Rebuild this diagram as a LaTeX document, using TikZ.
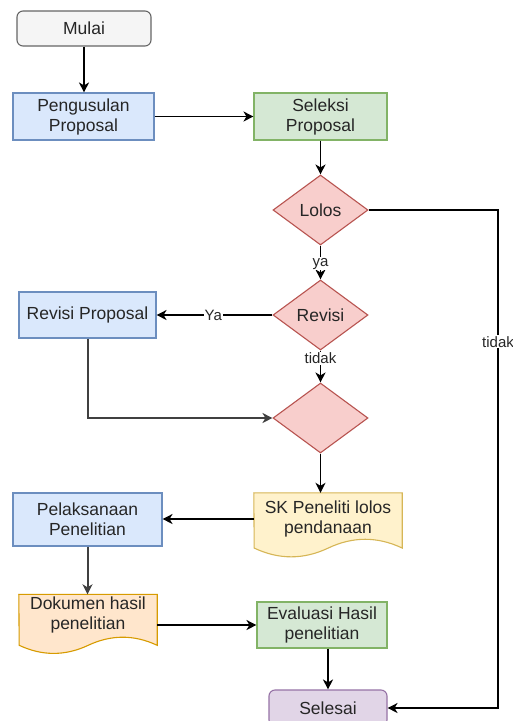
\documentclass[tikz,border=0pt]{standalone}
\usepackage{fontspec}
\setmainfont{Liberation Sans}
\usetikzlibrary{shapes.geometric,arrows.meta,backgrounds}
\definecolor{grayF}{HTML}{F5F5F5}\definecolor{grayD}{HTML}{666666}
\definecolor{blueF}{HTML}{DAE8FC}\definecolor{blueD}{HTML}{6C8EBF}
\definecolor{greenF}{HTML}{D5E8D4}\definecolor{greenD}{HTML}{82B366}
\definecolor{redF}{HTML}{F8CECC}\definecolor{redD}{HTML}{B85450}
\definecolor{yelF}{HTML}{FFF2CC}\definecolor{yelD}{HTML}{D6B656}
\definecolor{oraF}{HTML}{FFE6CC}\definecolor{oraD}{HTML}{D79B00}
\definecolor{purF}{HTML}{E1D5E7}\definecolor{purD}{HTML}{9673A6}
\newcommand\docpath[4]{%
 \filldraw[#4] (#1.north west) -- (#1.north east) -- ++(0,{0.85*#3})
  .. controls +({-#2/6},{-0.18*#3}) and +({#2/6},{-0.18*#3}) .. ++({-#2/2},0)
  .. controls +({-#2/6},{0.18*#3}) and +({#2/6},{0.18*#3}) .. ++({-#2/2},0) -- cycle;}
\begin{document}
\begin{tikzpicture}[x=1pt,y=-1pt,
  box/.style={draw, line width=1.1pt, inner sep=0pt, align=center, text=black!85,
    font=\fontsize{17.5}{20}\selectfont},
  term/.style={box, rounded corners=6pt},
  gray/.style={fill=grayF, draw=grayD},
  blue/.style={fill=blueF, draw=blueD},
  green/.style={fill=greenF, draw=greenD},
  red/.style={fill=redF, draw=redD},
  purple/.style={fill=purF, draw=purD},
  dec/.style={box, diamond, red, minimum width=95pt, minimum height=70pt},
  txt/.style={inner sep=0pt, align=center, text=black!85, font=\fontsize{17.5}{20}\selectfont},
  conn/.style={line width=1.5pt, -{Stealth[length=10pt,width=10pt,inset=3pt]}},
  lbl/.style={fill=white, inner sep=1pt, text=black!85, font=\fontsize{15}{17}\selectfont}]
\useasboundingbox (0,0) rectangle (513,721);
\clip (0,0) rectangle (513,721);

\node[term, gray, minimum width=134pt, minimum height=35pt] (mulai) at (84,28.5) {Mulai};
\node[box, blue, minimum width=141pt, minimum height=47pt] (peng) at (83.5,116.5) {Pengusulan\\Proposal};
\node[box, green, minimum width=133pt, minimum height=47pt] (sel) at (320.5,116.5) {Seleksi\\Proposal};
\node[dec] (lolos) at (320.5,210) {Lolos};
\node[dec] (rev) at (320.5,315) {Revisi};
\node[dec] (d3) at (320.5,418) {};
\node[box, blue, minimum width=137pt, minimum height=46pt] (rp) at (87.5,315) {Revisi Proposal};
\node[txt, minimum width=148pt, minimum height=52pt] (sk) at (328,519) {SK Peneliti lolos\\pendanaan};
\node[box, blue, minimum width=149pt, minimum height=53pt] (pel) at (87.5,519.5) {Pelaksanaan\\Penelitian};
\node[txt, minimum width=138pt, minimum height=40pt] (dok) at (88,614.5) {Dokumen hasil\\penelitian};
\node[box, green, minimum width=130pt, minimum height=46pt] (ev) at (322,625) {Evaluasi Hasil\\penelitian};
\node[term, purple, minimum width=118pt, minimum height=36pt] (selesai) at (328,708) {Selesai};
\coordinate (rt) at (498,210);

\begin{scope}[on background layer]
\fill[white] (0,0) rectangle (513,721);
\docpath{sk}{148}{65}{line width=1.1pt, fill=yelF, draw=yelD}
\docpath{dok}{138}{60}{line width=1.1pt, fill=oraF, draw=oraD}
\end{scope}

\draw[conn] (mulai) -- (mulai |- peng.north);
\draw[conn] (peng) -- (sel);
\draw[conn] (sel) -- (lolos);
\draw[conn] (lolos) -- node[lbl, pos=0.54] {ya} (rev);
\draw[conn] (rev) -- node[lbl, pos=0.51] {Ya} (rp);
\draw[conn] (rev) -- node[lbl, pos=0.24] {tidak} (d3);
\draw[conn, draw=black!75, line width=2pt] (rp.south) |- (d3.west);
\draw[conn] (d3.south) -- (d3.south |- sk.north);
\draw[conn] (sk.west) -- (sk.west -| pel.east);
\draw[conn, draw=black!75, line width=2pt] (pel.south) -- (pel.south |- dok.north);
\draw[conn] (dok.east |- ev.west) -- (ev.west);
\draw[conn] (selesai.north |- ev.south) -- (selesai.north);
\draw[conn] (lolos.east) -- (rt) -- node[lbl, pos=0.265] {tidak} (rt |- selesai.east) -- (selesai.east);
\end{tikzpicture}
\end{document}
